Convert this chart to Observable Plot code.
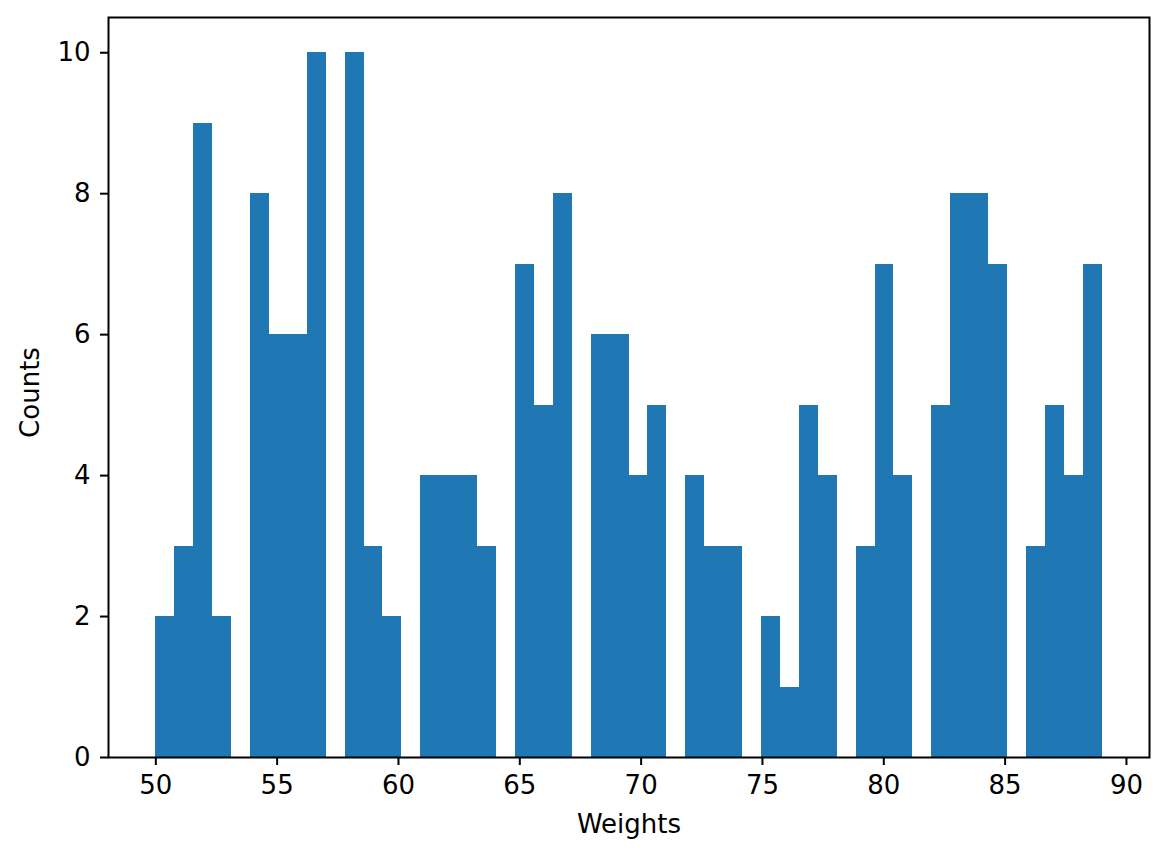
<!DOCTYPE html>
<html>
<head>
<meta charset="utf-8">
<script src="https://cdn.jsdelivr.net/npm/d3@7"></script>
<script src="https://cdn.jsdelivr.net/npm/@observablehq/plot@0.6"></script>
<style>
  html, body { margin: 0; padding: 0; background: #fff; }
</style>
</head>
<body>
<div id="chart"></div>
<script>
// Histogram of weights: 50 bins spanning 50 to 89
const binStart = 50;
const binEnd = 89;
const counts = [
  2, 3, 9, 2, 0, 8, 6, 6, 10, 0,
  10, 3, 2, 0, 4, 4, 4, 3, 0, 7,
  5, 8, 0, 6, 6, 4, 5, 0, 4, 3,
  3, 0, 2, 1, 5, 4, 0, 3, 7, 4,
  0, 5, 8, 8, 7, 0, 3, 5, 4, 7
];
const xTicks = [50, 55, 60, 65, 70, 75, 80, 85, 90];
const yTicks = [0, 2, 4, 6, 8, 10];
const xLabel = "Weights";
const yLabel = "Counts";

const step = (binEnd - binStart) / counts.length;
const bins = counts.map((c, i) => ({x1: binStart + i * step, x2: binStart + (i + 1) * step, count: c}));
const pad = (binEnd - binStart) * 0.05;

const chart = Plot.plot({
  width: 1169,
  height: 858,
  marginLeft: 108,
  marginRight: 20,
  marginTop: 17,
  marginBottom: 101,
  style: {fontFamily: "DejaVu Sans", fontSize: "26px", background: "#fff", color: "#000"},
  x: {domain: [binStart - pad, binEnd + pad]},
  y: {domain: [0, 10.5]},
  marks: [
    Plot.rectY(bins, {x1: "x1", x2: "x2", y: "count", fill: "#1f77b4", shapeRendering: "crispEdges"}),
    Plot.frame({stroke: "#000", strokeWidth: 2}),
    Plot.axisX({ticks: xTicks, tickSize: 8, tickPadding: 10, strokeWidth: 2, label: null, fontSize: 26, tickFormat: d => String(d)}),
    Plot.axisY({ticks: yTicks, tickSize: 8, tickPadding: 10, strokeWidth: 2, label: null, fontSize: 26, tickFormat: d => String(d)}),
    Plot.text([xLabel], {frameAnchor: "bottom", lineAnchor: "middle", textAnchor: "middle", dy: 67, fontSize: 26}),
    Plot.text([yLabel], {frameAnchor: "left", lineAnchor: "middle", textAnchor: "middle", dx: -78, dy: 5, rotate: -90, fontSize: 26})
  ]
});
document.getElementById("chart").appendChild(chart);
</script>
</body>
</html>
